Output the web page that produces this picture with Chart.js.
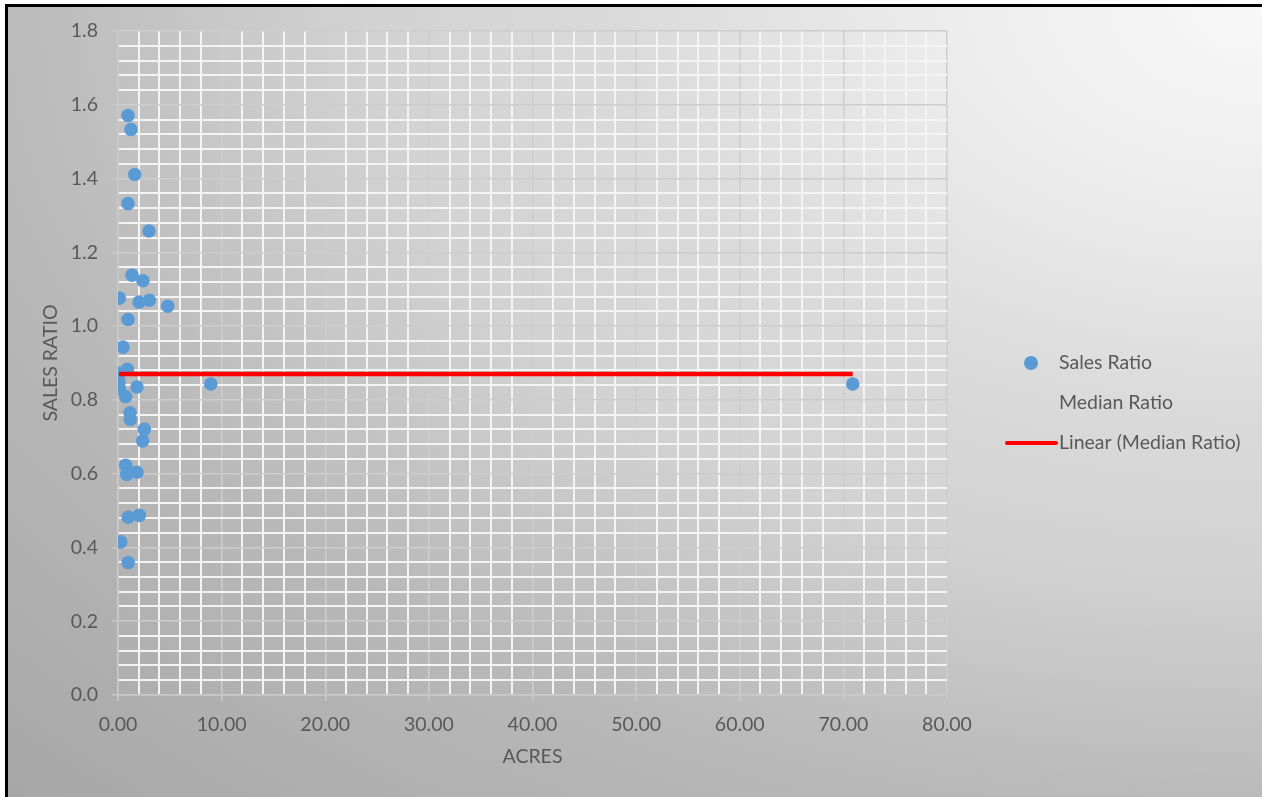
<!DOCTYPE html>
<html>
<head>
<meta charset="utf-8">
<title>Sales Ratio by Acres</title>
<script src="https://cdn.jsdelivr.net/npm/chart.js@4.4.0/dist/chart.umd.min.js"></script>
<style>
  html, body { margin: 0; padding: 0; background: #ffffff; overflow: hidden; width: 1262px; height: 797px; }
  #frame {
    position: absolute; left: 5px; top: 4px; width: 1257px; height: 793px;
    box-sizing: border-box; border-left: 3px solid #000; border-top: 3px solid #000;
    background: radial-gradient(ellipse 1790px 1130px at 100% 0%,
      #f8f8f8 0%, #ececec 18%, #dadada 36%, #d2d2d2 50%, #b9b9b9 71%, #a6a6a6 100%);
  }
  #chart { position: absolute; left: 0; top: 0; }
</style>
</head>
<body>
<div id="frame"></div>
<canvas id="chart" width="1262" height="797"></canvas>
<script>
// Parcel size in acres and the matching sales ratio for each sale
const acres = [
  0.97, 1.25, 1.61, 0.97, 2.99, 1.35, 2.41, 0.13, 3.02, 2.03,
  4.80, 0.97, 0.48, 0.90, 0.10, 0.10, 0.13, 1.83, 8.95, 0.74,
  1.16, 1.19, 2.54, 2.38, 0.74, 0.84, 1.83, 0.99, 2.06, 0.26,
  0.99, 70.90
];
const salesRatio = [
  1.571, 1.533, 1.411, 1.332, 1.258, 1.138, 1.123, 1.076, 1.070, 1.065,
  1.054, 1.018, 0.943, 0.883, 0.872, 0.849, 0.831, 0.835, 0.843, 0.809,
  0.765, 0.747, 0.720, 0.689, 0.623, 0.598, 0.604, 0.482, 0.487, 0.415,
  0.359, 0.843
];
// Median of the sales ratios, repeated for each sale
const medianRatio = acres.map(() => 0.87);

// Axis ranges and tick spacing
const xRange = [0, 80];
const xMajorStep = 10;
const xMinorStep = 2;
const yRange = [0, 1.8];
const yMajorStep = 0.2;
const yMinorStep = 0.04;

const seriesNames = ['Sales Ratio', 'Median Ratio', 'Linear (Median Ratio)'];

const textColor = '#595959';
const fontFamily = 'Lato, "Open Sans", sans-serif';
const fontSize = 19.5;
const pointBlue = '#5b9bd5';
const trendRed = '#ff0000';

const salesPoints = acres.map((a, i) => ({ x: a, y: salesRatio[i] }));
const medianPoints = acres.map((a, i) => ({ x: a, y: medianRatio[i] }));
// A linear fit of a constant series is flat across the data's x-extent
const xMin = Math.min(...acres), xMax = Math.max(...acres);
const trendPoints = [{ x: xMin, y: medianRatio[0] }, { x: xMax, y: medianRatio[0] }];

const isMajor = (v, step) => Math.abs(v / step - Math.round(v / step)) < 1e-6;

// Legend drawn to the right of the plot, one entry per series
const sideLegend = {
  id: 'sideLegend',
  afterDraw(chart) {
    const ctx = chart.ctx;
    ctx.save();
    ctx.font = fontSize + 'px ' + fontFamily;
    ctx.textBaseline = 'middle';
    ctx.textAlign = 'left';
    const textX = 1059, top = 363, gap = 40;
    chart.data.datasets.forEach((ds, i) => {
      const y = top + gap * i;
      if (ds.legendSymbol === 'point') {
        ctx.beginPath();
        ctx.arc(1031, y, 7, 0, Math.PI * 2);
        ctx.fillStyle = ds.backgroundColor;
        ctx.fill();
      } else if (ds.legendSymbol === 'line') {
        ctx.beginPath();
        ctx.moveTo(1007, y);
        ctx.lineTo(1056, y);
        ctx.strokeStyle = ds.borderColor;
        ctx.lineWidth = 4;
        ctx.lineCap = 'round';
        ctx.stroke();
      }
      ctx.fillStyle = textColor;
      ctx.fillText(ds.label, textX, y);
    });
    ctx.restore();
  }
};

new Chart(document.getElementById('chart'), {
  type: 'scatter',
  data: {
    datasets: [
      {
        label: seriesNames[0],
        data: salesPoints,
        legendSymbol: 'point',
        backgroundColor: pointBlue,
        borderColor: pointBlue,
        pointRadius: 6.8,
        pointHoverRadius: 6.8,
        borderWidth: 0,
        order: 1
      },
      {
        label: seriesNames[1],
        data: medianPoints,
        legendSymbol: 'none',
        pointRadius: 0,
        showLine: false,
        order: 2
      },
      {
        label: seriesNames[2],
        data: trendPoints,
        legendSymbol: 'line',
        showLine: true,
        borderColor: trendRed,
        backgroundColor: trendRed,
        borderWidth: 4.5,
        pointRadius: 0,
        borderCapStyle: 'butt',
        order: 0
      }
    ]
  },
  options: {
    responsive: false,
    animation: false,
    events: [],
    layout: { padding: { left: 39, top: 31, right: 315, bottom: 29 } },
    plugins: {
      legend: { display: false },
      tooltip: { enabled: false }
    },
    scales: {
      x: {
        type: 'linear',
        min: xRange[0],
        max: xRange[1],
        afterFit(scale) { scale.height = 73; },
        ticks: {
          stepSize: xMinorStep,
          autoSkip: false,
          maxRotation: 0,
          padding: 12,
          color: textColor,
          font: { family: fontFamily, size: fontSize },
          callback: v => isMajor(v, xMajorStep) ? v.toFixed(2) : ''
        },
        grid: {
          color: c => isMajor(c.tick.value, xMajorStep) ? '#cdcdcd' : '#f4f4f4',
          lineWidth: c => isMajor(c.tick.value, xMajorStep) ? 1.5 : 2,
          tickLength: 6,
          tickColor: c => isMajor(c.tick.value, xMajorStep) ? '#c9c9c9' : 'rgba(0,0,0,0)'
        },
        border: { color: '#c9c9c9', width: 1.5 },
        title: {
          display: true,
          text: 'ACRES',
          color: textColor,
          font: { family: fontFamily, size: fontSize },
          padding: 0
        }
      },
      y: {
        type: 'linear',
        min: yRange[0],
        max: yRange[1],
        afterFit(scale) { scale.width = 79; },
        ticks: {
          stepSize: yMinorStep,
          autoSkip: false,
          padding: 14,
          color: textColor,
          font: { family: fontFamily, size: fontSize },
          callback: v => isMajor(v, yMajorStep) ? v.toFixed(1) : ''
        },
        grid: {
          color: c => isMajor(c.tick.value, yMajorStep) ? '#cdcdcd' : '#f4f4f4',
          lineWidth: c => isMajor(c.tick.value, yMajorStep) ? 1.5 : 2,
          tickLength: 6,
          tickColor: c => isMajor(c.tick.value, yMajorStep) ? '#c9c9c9' : 'rgba(0,0,0,0)'
        },
        border: { color: '#c9c9c9', width: 1.5 },
        title: {
          display: true,
          text: 'SALES RATIO',
          color: textColor,
          font: { family: fontFamily, size: fontSize },
          padding: 0
        }
      }
    }
  },
  plugins: [sideLegend]
});
</script>
</body>
</html>
